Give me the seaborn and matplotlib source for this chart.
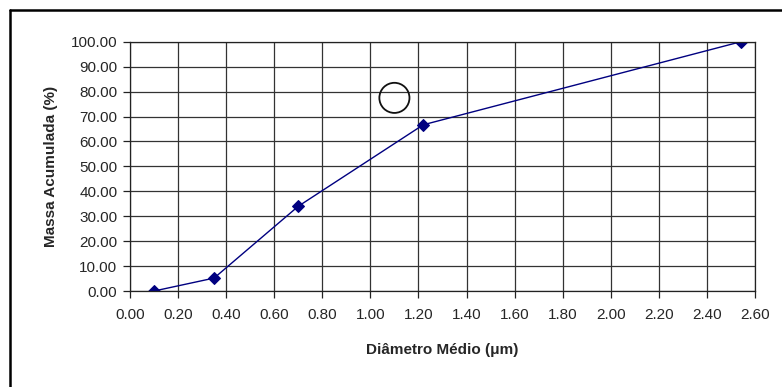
import pandas as pd
import matplotlib.pyplot as plt
import seaborn as sns
from matplotlib.lines import Line2D

diametro = [0.10, 0.35, 0.70, 1.22, 2.54]
massa = [0.0, 5.2, 34.0, 66.7, 100.0]
circulo_x = [1.10]
circulo_y = [77.5]
x_ticks = [0.0, 0.2, 0.4, 0.6, 0.8, 1.0, 1.2, 1.4, 1.6, 1.8, 2.0, 2.2, 2.4, 2.6]
y_ticks = [0, 10, 20, 30, 40, 50, 60, 70, 80, 90, 100]

df = pd.DataFrame({'Diametro': diametro, 'Massa': massa})

sns.set_style('white')
plt.rcParams['font.family'] = ['Liberation Sans', 'DejaVu Sans']

fig = plt.figure(figsize=(7.82, 3.87), dpi=100)
ax = fig.add_axes([0.1662, 0.248, 0.7993, 0.644])

sns.lineplot(data=df, x='Diametro', y='Massa', ax=ax, color='#000080',
             marker='D', markersize=6, markeredgecolor='#000080', linewidth=1)
ax.scatter(circulo_x, circulo_y, s=470, facecolors='none', edgecolors='#111111',
           linewidths=1.3, zorder=5)

ax.set_xlim(0, 2.6)
ax.set_ylim(0, 100)
ax.set_xticks(x_ticks)
ax.set_yticks(y_ticks)
ax.set_xticklabels([f'{v:.2f}' for v in x_ticks])
ax.set_yticklabels([f'{v:.2f}' for v in y_ticks])
ax.grid(True, color='#333333', linewidth=0.9)
ax.set_axisbelow(True)
for s in ax.spines.values():
    s.set_color('#222222')
    s.set_linewidth(0.9)
ax.tick_params(axis='both', direction='out', length=5, width=0.9, color='#222222',
               labelsize=11, left=True, bottom=True)
ax.tick_params(axis='x', pad=7)
ax.tick_params(axis='y', pad=4)

ax.set_xlabel('Diâmetro Médio (μm)', fontsize=11, fontweight='bold', labelpad=15)
ax.set_ylabel('Massa Acumulada (%)', fontsize=11, fontweight='bold', labelpad=9)

# moldura do gráfico (cortada à direita e embaixo)
fig.add_artist(Line2D([10 / 782, 10 / 782], [0, 1 - 10 / 387], color='black', linewidth=1.8))
fig.add_artist(Line2D([10 / 782, 1], [1 - 10 / 387, 1 - 10 / 387], color='black', linewidth=1.8))

fig.savefig('out.png', dpi=100)
